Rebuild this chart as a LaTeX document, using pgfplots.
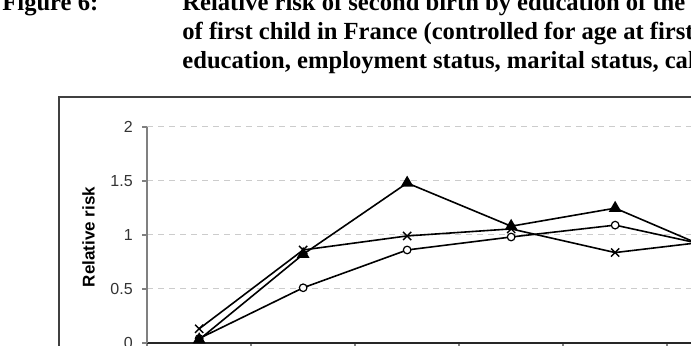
\documentclass[border=0pt]{standalone}
\usepackage{fontspec}
\setmainfont{Liberation Sans}
\newfontfamily\titlefont{Liberation Serif}
\usepackage{pgfplots}
\pgfplotsset{compat=1.18}
\begin{document}
\begin{tikzpicture}[x=0.5pt,y=0.5pt]
\useasboundingbox (0,0) rectangle (691,345);
\clip (0,0) rectangle (691,345);
% title
\node[anchor=base west,inner sep=0pt,font=\titlefont\bfseries\fontsize{12.3}{14}\selectfont] at (2,335) {Figure 6:};
\node[anchor=base west,inner sep=0pt,font=\titlefont\bfseries\fontsize{12.3}{14}\selectfont] at (182,335) {Relative risk of second birth by education of the mother and age};
\node[anchor=base west,inner sep=0pt,font=\titlefont\bfseries\fontsize{12.3}{14}\selectfont] at (182,306) {of first child in France (controlled for age at first birth,};
\node[anchor=base west,inner sep=0pt,font=\titlefont\bfseries\fontsize{12.3}{14}\selectfont] at (182,277) {education, employment status, marital status, calendar period)};
% chart frame
\draw[line width=0.75pt,draw=black!75] (59,248) rectangle (720,-20);
\begin{axis}[
  at={(141.5,2)}, anchor=south west,
  scale only axis, width=312pt, height=108pt,
  xmin=-0.5, xmax=5.5, ymin=0, ymax=2,
  axis x line=bottom, axis y line=left,
  axis line style={-},
  x axis line style={draw=black!85, line width=0.75pt},
  y axis line style={draw=black!50, line width=0.9pt},
  xtick={-0.5,0.5,...,5.5}, xticklabels={},
  ytick={0,0.5,1,1.5,2},
  yticklabels={0,0.5,1,1.5,2},
  tick align=outside, tick pos=left,
  major tick length=2.5pt,
  every tick/.style={draw=black!50, line width=0.7pt},
  ymajorgrids,
  grid style={draw=black!20, line width=0.6pt, dash pattern=on 3pt off 2.5pt},
  ticklabel style={font=\fontsize{8}{9}\selectfont, text=black!80},
  yticklabel style={xshift=-1.2pt},
  /pgf/number format/assume math mode=true,
  ylabel={Relative risk},
  ylabel style={font=\bfseries\fontsize{8.5}{10}\selectfont, at={(axis description cs:-0.094,0.49)}, anchor=center},
  every axis plot/.append style={black, line width=0.8pt},
  clip=false,
]
\addplot[mark=x, mark size=2.9pt, mark options={line width=0.7pt}] coordinates {
  (0,0.13) (1,0.86) (2,0.99) (3,1.055) (4,0.836) (5,0.95)};
\addplot[mark=*, mark size=1.9pt, mark options={fill=white, line width=0.6pt}] coordinates {
  (0,0.04) (1,0.51) (2,0.86) (3,0.98) (4,1.09) (5,0.88)};
\addplot[mark=triangle*, mark size=2.9pt, mark options={fill=black}] coordinates {
  (0,0.03) (1,0.82) (2,1.48) (3,1.08) (4,1.247) (5,0.835)};
\end{axis}
\end{tikzpicture}
\end{document}
